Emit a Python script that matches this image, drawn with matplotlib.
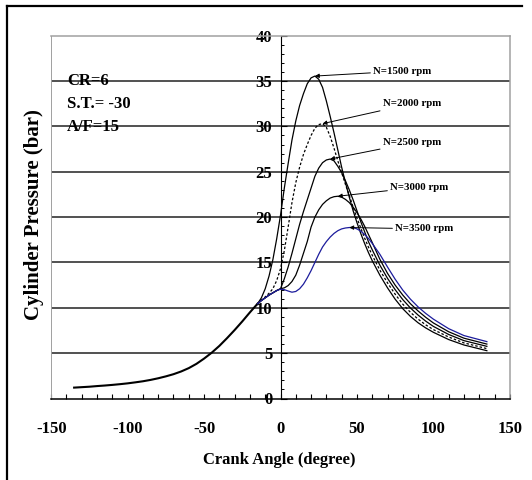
import matplotlib
matplotlib.use("Agg")
import matplotlib.pyplot as plt
from matplotlib.lines import Line2D
from matplotlib.ticker import MultipleLocator
import numpy as np

# -- Data ----------------------------------------------------------------------

# motored compression, common to every speed (deg, bar)
angle_motoring = [-135, -130, -125, -120, -115, -110, -105, -100, -95, -90,
                  -85, -80, -75, -70, -65, -60, -55, -50, -45, -40, -35,
                  -30, -25, -20, -15]
p_motoring = [1.2, 1.25, 1.3, 1.37, 1.43, 1.5, 1.58, 1.67, 1.78, 1.9,
              2.05, 2.23, 2.44, 2.68, 2.98, 3.35, 3.82, 4.4, 5.05, 5.8, 6.65,
              7.55, 8.5, 9.5, 10.45]

# firing curves, from -15 deg to exhaust opening
angle_firing = [-15, -12.5, -10, -7.5, -5, -2.5, 0, 2.5, 5, 7.5, 10, 12.5,
                15, 17.5, 20, 22.5, 25, 27.5, 30, 32.5, 35, 37.5, 40, 42.5,
                45, 47.5, 50, 52.5, 55, 57.5, 60, 65, 70, 75, 80, 85, 90,
                95, 100, 110, 120, 135]

p_1500 = [10.45, 11.1, 12.1, 13.5, 15.3, 17.6, 20.2, 23.2, 25.9, 28.5, 30.6,
          32.3, 33.6, 34.7, 35.35, 35.55, 35.2, 34.3, 32.8, 31.1, 29.3, 27.4,
          25.5, 23.8, 22.2, 20.7, 19.4, 18.2, 17.1, 16.1, 15.2, 13.6, 12.2,
          10.95, 9.9, 9.05, 8.35, 7.78, 7.3, 6.5, 5.9, 5.27]
p_2000 = [10.45, 10.85, 11.2, 11.6, 12.1, 13.0, 14.3, 16.3, 18.9, 21.6, 23.8,
          25.5, 26.9, 28.0, 29.0, 29.8, 30.2, 30.3, 29.9, 28.9, 27.6, 26.2,
          24.9, 23.6, 22.4, 21.1, 19.9, 18.8, 17.7, 16.7, 15.8, 14.15, 12.75,
          11.5, 10.4, 9.5, 8.75, 8.12, 7.6, 6.78, 6.13, 5.5]
p_2500 = [10.45, 10.8, 11.1, 11.4, 11.65, 11.9, 12.1, 13.2, 14.5, 16.0, 17.6,
          19.2, 20.6, 21.9, 23.2, 24.5, 25.4, 26.0, 26.3, 26.4, 26.2, 25.6,
          24.9, 24.0, 23.0, 21.9, 20.7, 19.5, 18.4, 17.3, 16.4, 14.7, 13.25,
          12.0, 10.9, 9.98, 9.2, 8.53, 7.95, 7.06, 6.38, 5.75]
p_3000 = [10.45, 10.8, 11.1, 11.4, 11.65, 11.9, 12.1, 12.2, 12.45, 12.9, 13.6,
          14.7, 16.0, 17.3, 18.9, 20.0, 20.8, 21.4, 21.8, 22.1, 22.25, 22.3,
          22.2, 21.95, 21.6, 21.1, 20.5, 19.8, 19.0, 18.1, 17.2, 15.35, 13.8,
          12.5, 11.4, 10.45, 9.65, 8.95, 8.33, 7.36, 6.65, 6.0]
p_3500 = [10.45, 10.8, 11.1, 11.4, 11.65, 11.9, 12.05, 12.0, 11.85, 11.72,
          11.8, 12.1, 12.6, 13.3, 14.1, 15.0, 15.9, 16.7, 17.3, 17.8, 18.2,
          18.5, 18.7, 18.8, 18.85, 18.85, 18.7, 18.45, 18.1, 17.65, 17.1,
          15.9, 14.5, 13.15, 11.95, 10.95, 10.1, 9.38, 8.75, 7.7, 6.94, 6.27]

speed_labels = ["N=1500 rpm", "N=2000 rpm", "N=2500 rpm", "N=3000 rpm",
                "N=3500 rpm"]
engine_notes = ["CR=6", "S.T.= -30", "A/F=15"]

# -- Style ---------------------------------------------------------------------

plt.rcParams["font.family"] = "Liberation Serif"
plt.rcParams["font.weight"] = "bold"
plt.rcParams["axes.unicode_minus"] = False

BLACK = "#000000"
NAVY = "#1c1c9c"
GRID = "#333333"
FRAME = "#a0a0a0"

W, H = 532, 480
fig = plt.figure(figsize=(W / 100, H / 100), dpi=100)
fig.patch.set_facecolor("white")

# plot area in pixels: x 51..510, y 35.7..398.5
ax = fig.add_axes([51.2 / W, 1 - 398.5 / H, (509.8 - 51.2) / W,
                   (398.5 - 35.7) / H])
ax.set_xlim(-150, 150)
ax.set_ylim(0, 40)

# horizontal rules at every 5 bar
for yv in range(5, 40, 5):
    ax.axhline(yv, color=GRID, lw=1.2, zorder=1)

# curves
ax.plot(angle_motoring, p_motoring, color=BLACK, lw=1.5, zorder=3,
        solid_joinstyle="round")
series = [p_1500, p_2000, p_2500, p_3000, p_3500]
styles = [
    dict(color=BLACK, lw=0.9, ls="-"),
    dict(color=BLACK, lw=0.9, ls=(0, (2.0, 1.6))),
    dict(color=BLACK, lw=0.9, ls="-"),
    dict(color=BLACK, lw=0.9, ls="-"),
    dict(color=NAVY, lw=0.9, ls="-"),
]
for p, st in zip(series, styles):
    ax.plot(angle_firing, p, zorder=3, **st)

# speed labels with arrows pointing at each peak
label_x = [60.6, 66.9, 66.9, 71.7, 75.0]
label_y = [36.1, 32.5, 28.2, 23.3, 18.7]
for p, lab, lx, ly in zip(series, speed_labels, label_x, label_y):
    i = int(np.argmax(p))
    ax.annotate(lab, xy=(angle_firing[i], p[i]), xytext=(lx, ly),
                ha="left", va="center", fontsize=7.8, fontweight="bold",
                arrowprops=dict(arrowstyle="-|>", color=BLACK, lw=0.7,
                                mutation_scale=6, shrinkA=0, shrinkB=0),
                zorder=5)

# engine settings
for txt, ty in zip(engine_notes, [35.0, 32.45, 29.9]):
    ax.text(-139.5, ty, txt, ha="left", va="center", fontsize=12,
            fontweight="bold", zorder=4)

# axes: y spine sits at zero crank angle, grey frame around the rest
ax.spines["left"].set_position(("data", 0))
ax.spines["left"].set_color(BLACK)
ax.spines["left"].set_linewidth(0.8)
ax.spines["bottom"].set_color(BLACK)
ax.spines["bottom"].set_linewidth(1.1)
for s in ("top", "right"):
    ax.spines[s].set_color(FRAME)
    ax.spines[s].set_linewidth(1.1)
ax.axvline(-150, color=FRAME, lw=1.4, zorder=2)

ax.xaxis.set_major_locator(MultipleLocator(50))
ax.xaxis.set_minor_locator(MultipleLocator(10))
ax.yaxis.set_major_locator(MultipleLocator(5))
ax.yaxis.set_minor_locator(MultipleLocator(1))
ax.tick_params(axis="x", which="both", direction="in", length=3.5,
               width=0.8, pad=16, labelsize=12)
ax.tick_params(axis="y", which="major", direction="in", length=4,
               width=0.8, pad=6, labelsize=12)
ax.tick_params(axis="y", which="minor", direction="in", length=2.5,
               width=0.7)
for lbl in ax.get_xticklabels() + ax.get_yticklabels():
    lbl.set_fontweight("bold")

fig.text(279 / W, 1 - 460 / H, "Crank Angle (degree)", ha="center",
         va="center", fontsize=12, fontweight="bold")
fig.text(34 / W, 1 - 215 / H, "Cylinder Pressure (bar)", ha="center",
         va="center", rotation=90, fontsize=15, fontweight="bold")

# outer border (left and top edges)
fig.add_artist(Line2D([6.5 / W, 6.5 / W], [0, 1 - 5.5 / H],
                      transform=fig.transFigure, color=BLACK, lw=1.6))
fig.add_artist(Line2D([6.5 / W, 522 / W], [1 - 5.5 / H, 1 - 5.5 / H],
                      transform=fig.transFigure, color=BLACK, lw=1.6))

fig.savefig("out.png", dpi=100, facecolor="white")
